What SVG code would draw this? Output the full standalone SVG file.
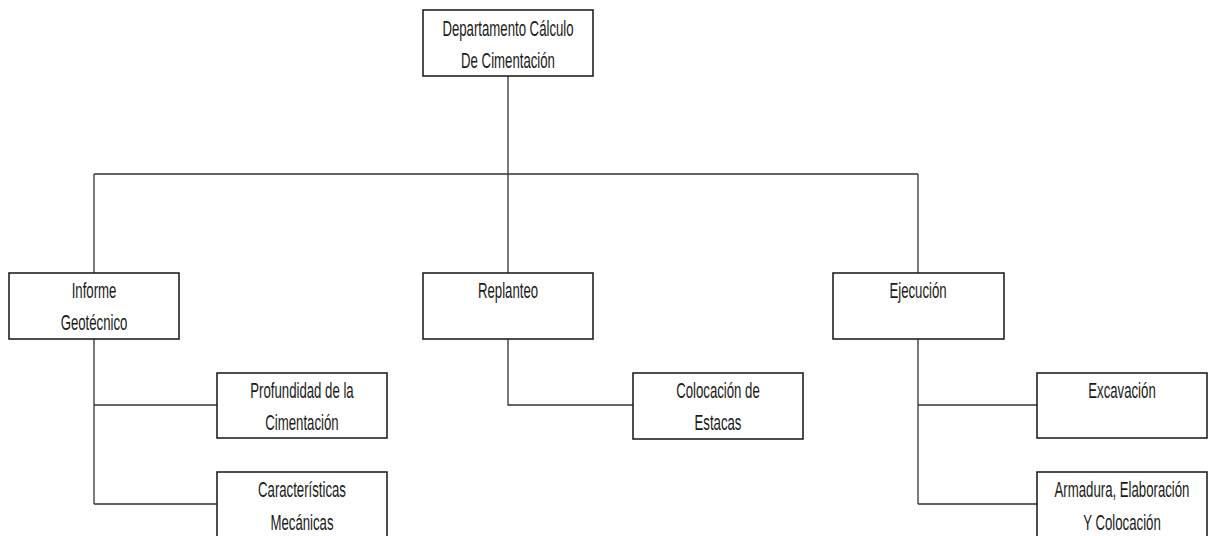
<svg xmlns="http://www.w3.org/2000/svg" width="1214" height="536" viewBox="0 0 1214 536">
  <style>
    .box { fill: #ffffff; stroke: #222222; stroke-width: 1.6; }
    .lbl { font-family: "Liberation Sans", Arial, sans-serif; font-size: 22px; fill: #1a1a1a; text-anchor: middle; }
    .wire { fill: none; stroke: #333333; stroke-width: 1.3; }
  </style>
  <rect width="1214" height="536" fill="#ffffff"/>

  <!-- connectors -->
  <g id="connectors">
    <path class="wire" d="M508,76 V174 M94,174 H918 M94,174 V273 M508,174 V273 M918,174 V273"/>
    <path class="wire" d="M94,339 V504 M94,405 H217 M94,504 H217"/>
    <path class="wire" d="M508,339 V405 H633"/>
    <path class="wire" d="M918,339 V504 M918,405 H1037 M918,504 H1037"/>
  </g>

  <g id="n-departamento">
    <rect class="box" x="423" y="10" width="170" height="66"/>
    <text class="lbl" transform="translate(508,36) scale(0.6,1)">Departamento Cálculo</text>
    <text class="lbl" transform="translate(508,68) scale(0.6,1)">De Cimentación</text>
  </g>

  <g id="n-informe">
    <rect class="box" x="9" y="273" width="170" height="66"/>
    <text class="lbl" transform="translate(94,298) scale(0.6,1)">Informe</text>
    <text class="lbl" transform="translate(94,330) scale(0.6,1)">Geotécnico</text>
  </g>

  <g id="n-replanteo">
    <rect class="box" x="423" y="273" width="170" height="66"/>
    <text class="lbl" transform="translate(508,298) scale(0.6,1)">Replanteo</text>
  </g>

  <g id="n-ejecucion">
    <rect class="box" x="833" y="273" width="171" height="66"/>
    <text class="lbl" transform="translate(918,298) scale(0.6,1)">Ejecución</text>
  </g>

  <g id="n-profundidad">
    <rect class="box" x="217" y="373" width="170" height="65"/>
    <text class="lbl" transform="translate(302,398) scale(0.6,1)">Profundidad de la</text>
    <text class="lbl" transform="translate(302,430) scale(0.6,1)">Cimentación</text>
  </g>

  <g id="n-caracteristicas">
    <rect class="box" x="217" y="472" width="170" height="80"/>
    <text class="lbl" transform="translate(302,497) scale(0.6,1)">Características</text>
    <text class="lbl" transform="translate(302,530) scale(0.6,1)">Mecánicas</text>
  </g>

  <g id="n-colocacion-estacas">
    <rect class="box" x="633" y="373" width="170" height="66"/>
    <text class="lbl" transform="translate(718,398) scale(0.6,1)">Colocación de</text>
    <text class="lbl" transform="translate(718,430) scale(0.6,1)">Estacas</text>
  </g>

  <g id="n-excavacion">
    <rect class="box" x="1037" y="373" width="170" height="65"/>
    <text class="lbl" transform="translate(1122,398) scale(0.6,1)">Excavación</text>
  </g>

  <g id="n-armadura">
    <rect class="box" x="1037" y="472" width="170" height="80"/>
    <text class="lbl" transform="translate(1122,497) scale(0.6,1)">Armadura, Elaboración</text>
    <text class="lbl" transform="translate(1122,530) scale(0.6,1)">Y Colocación</text>
  </g>
</svg>
